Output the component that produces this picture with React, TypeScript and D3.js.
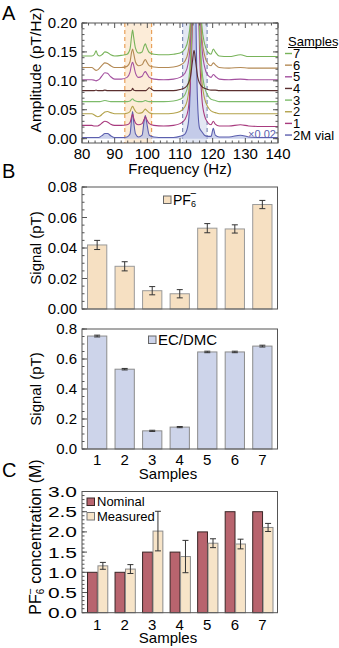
import { useEffect, useRef } from 'react';
import * as d3 from 'd3';

const W = 339;
const H = 648;
const FONT = '"Liberation Sans", Arial, sans-serif';
const FRAME = '#555';

// ---- panel A: spectra (amplitude in pT/Hz) ----
const freqs = [
  80, 83, 83.8, 84.3, 84.8, 85.5, 86.3, 87, 87.8, 88.8,
  90, 92, 93.8, 94.7, 95.2, 95.5, 95.8, 96.4, 97.3, 98.4,
  99, 99.4, 99.8, 100.6, 102, 105, 108, 110, 111.5, 112.5,
  113.2, 113.8, 114.3, 114.8, 115.4, 116, 116.7, 117.5, 118.5, 119.5,
  120.2, 120.8, 122, 125, 128.5, 131, 135, 140,
];
const sample7 = [
  0.143, 0.143, 0.146, 0.152, 0.145, 0.143, 0.146, 0.150, 0.149, 0.145,
  0.143, 0.144, 0.146, 0.155, 0.178, 0.188, 0.176, 0.156, 0.148, 0.150,
  0.160, 0.164, 0.158, 0.149, 0.146, 0.145, 0.146, 0.148, 0.155, 0.172,
  0.205, 0.30, 0.50, 0.60, 0.50, 0.30, 0.195, 0.165, 0.150, 0.146,
  0.155, 0.150, 0.143, 0.142, 0.145, 0.142, 0.142, 0.142,
];
const sample6 = [
  0.123, 0.123, 0.120, 0.118, 0.119, 0.123, 0.128, 0.131, 0.130, 0.126,
  0.123, 0.123, 0.125, 0.133, 0.150, 0.155, 0.148, 0.132, 0.126, 0.128,
  0.134, 0.137, 0.133, 0.126, 0.124, 0.123, 0.124, 0.127, 0.134, 0.150,
  0.190, 0.28, 0.45, 0.55, 0.45, 0.27, 0.175, 0.145, 0.130, 0.126,
  0.131, 0.128, 0.123, 0.122, 0.123, 0.122, 0.122, 0.122,
];
const sample5 = [
  0.102, 0.102, 0.101, 0.100, 0.101, 0.104, 0.110, 0.114, 0.113, 0.107,
  0.103, 0.103, 0.106, 0.115, 0.129, 0.132, 0.127, 0.113, 0.106, 0.108,
  0.114, 0.116, 0.113, 0.106, 0.103, 0.102, 0.103, 0.106, 0.113, 0.130,
  0.170, 0.26, 0.42, 0.50, 0.42, 0.25, 0.160, 0.125, 0.110, 0.106,
  0.111, 0.108, 0.103, 0.102, 0.103, 0.102, 0.102, 0.102,
];
const sample4 = [
  0.083, 0.083, 0.083, 0.084, 0.083, 0.083, 0.083, 0.084, 0.083, 0.083,
  0.083, 0.083, 0.083, 0.083, 0.084, 0.087, 0.084, 0.083, 0.083, 0.083,
  0.083, 0.083, 0.084, 0.088, 0.083, 0.083, 0.083, 0.085, 0.088, 0.095,
  0.107, 0.133, 0.153, 0.133, 0.107, 0.096, 0.090, 0.087, 0.085, 0.084,
  0.084, 0.084, 0.083, 0.083, 0.083, 0.083, 0.083, 0.083,
];
const sample3 = [
  0.064, 0.064, 0.064, 0.064, 0.064, 0.064, 0.065, 0.066, 0.065, 0.064,
  0.064, 0.064, 0.064, 0.065, 0.068, 0.069, 0.067, 0.065, 0.064, 0.064,
  0.065, 0.066, 0.065, 0.064, 0.064, 0.064, 0.065, 0.068, 0.076, 0.095,
  0.14, 0.25, 0.40, 0.45, 0.35, 0.20, 0.12, 0.090, 0.075, 0.068,
  0.067, 0.066, 0.064, 0.064, 0.064, 0.064, 0.064, 0.064,
];
const sample2 = [
  0.043, 0.043, 0.041, 0.039, 0.038, 0.039, 0.043, 0.046, 0.047, 0.045,
  0.043, 0.043, 0.044, 0.047, 0.054, 0.056, 0.053, 0.047, 0.044, 0.045,
  0.049, 0.051, 0.049, 0.045, 0.043, 0.043, 0.044, 0.047, 0.055, 0.075,
  0.12, 0.22, 0.38, 0.42, 0.32, 0.18, 0.10, 0.070, 0.055, 0.048,
  0.046, 0.045, 0.043, 0.043, 0.043, 0.043, 0.043, 0.043,
];
const sample1 = [
  0.023, 0.023, 0.022, 0.022, 0.022, 0.024, 0.028, 0.030, 0.029, 0.025,
  0.023, 0.023, 0.024, 0.028, 0.038, 0.042, 0.036, 0.027, 0.024, 0.026,
  0.033, 0.038, 0.033, 0.026, 0.023, 0.022, 0.023, 0.026, 0.033, 0.05,
  0.10, 0.20, 0.35, 0.40, 0.30, 0.15, 0.07, 0.040, 0.028, 0.024,
  0.030, 0.025, 0.022, 0.022, 0.024, 0.022, 0.021, 0.021,
];
// 2M vial, shown scaled by x0.02
const vial = [
  0.002, 0.002, 0.002, 0.002, 0.002, 0.003, 0.006, 0.009, 0.009, 0.005,
  0.002, 0.002, 0.003, 0.008, 0.035, 0.047, 0.030, 0.008, 0.003, 0.006,
  0.030, 0.040, 0.028, 0.006, 0.003, 0.002, 0.002, 0.004, 0.008, 0.025,
  0.10, 0.40, 0.60, 0.25, 0.06, 0.018, 0.012, 0.006, 0.004, 0.004,
  0.018, 0.006, 0.003, 0.003, 0.006, 0.003, 0.002, 0.002,
];
const traceNames = ['7', '6', '5', '4', '3', '2', '1', '2M vial'];
const traceData = [sample7, sample6, sample5, sample4, sample3, sample2, sample1, vial];
const traceColors = ['#78b35a', '#b48a55', '#a3509f', '#5b2f2f', '#7dbb6a', '#b3a24a', '#a83a7e', '#5c5fae'];
const pfWindow = [93.1, 101.3];
const ecWindow = [110.8, 118.3];
const freqTicks = [80, 90, 100, 110, 120, 130, 140];
const ampTicks = [0, 0.05, 0.1, 0.15, 0.2];

// ---- panel B: signals ----
const samples = ['1', '2', '3', '4', '5', '6', '7'];
const pfSignal = [0.042, 0.028, 0.012, 0.010, 0.053, 0.0525, 0.0685];
const pfErr = [0.003, 0.003, 0.0027, 0.0027, 0.003, 0.0027, 0.0027];
const ecSignal = [0.753, 0.532, 0.121, 0.146, 0.647, 0.647, 0.686];
const ecErr = [0.006, 0.005, 0.004, 0.004, 0.005, 0.005, 0.006];
const pfTicks = [0, 0.02, 0.04, 0.06, 0.08];
const ecTicks = [0, 0.2, 0.4, 0.6, 0.8];

// ---- panel C: concentrations ----
const nominal = [1.0, 1.0, 1.5, 1.5, 2.0, 2.5, 2.5];
const measured = [1.16, 1.08, 2.02, 1.39, 1.72, 1.70, 2.11];
const measuredErr = [0.085, 0.11, 0.49, 0.40, 0.11, 0.12, 0.10];
const concTicks = [0, 0.5, 1, 1.5, 2, 2.5, 3];

type G = d3.Selection<SVGGElement, unknown, null, undefined>;

function box(g: G, l: number, r: number, t: number, b: number) {
  g.append('rect')
    .attr('x', l).attr('y', t)
    .attr('width', r - l).attr('height', b - t)
    .attr('fill', 'none')
    .attr('stroke', FRAME)
    .attr('stroke-width', 1);
}

// ticks point inward (Mathematica frame style); stretch widens labels horizontally
function leftTicks(g: G, y: d3.ScaleLinear<number, number>, x0: number, major: number[], minorStep: number, fmt: (v: number) => string, size = 15, x1?: number, stretch = 1) {
  const [lo, hi] = y.domain();
  const minor = d3.range(Math.ceil(lo / minorStep) * minorStep, hi + 1e-9, minorStep);
  minor.forEach(v => {
    g.append('line').attr('x1', x0).attr('x2', x0 + 2.5).attr('y1', y(v)).attr('y2', y(v)).attr('stroke', FRAME);
    if (x1 !== undefined) g.append('line').attr('x1', x1).attr('x2', x1 - 2.5).attr('y1', y(v)).attr('y2', y(v)).attr('stroke', FRAME);
  });
  major.forEach(v => {
    g.append('line').attr('x1', x0).attr('x2', x0 + 5).attr('y1', y(v)).attr('y2', y(v)).attr('stroke', FRAME);
    if (x1 !== undefined) g.append('line').attr('x1', x1).attr('x2', x1 - 5).attr('y1', y(v)).attr('y2', y(v)).attr('stroke', FRAME);
    g.append('text')
      .attr('transform', `translate(${x0 - 5},${y(v) + size * 0.36}) scale(${stretch},1)`)
      .attr('text-anchor', 'end')
      .attr('font-size', size)
      .text(fmt(v));
  });
}

function yTitle(g: G, x: number, y: number, text: string, size = 15) {
  g.append('text')
    .attr('transform', `translate(${x},${y}) rotate(-90)`)
    .attr('text-anchor', 'middle')
    .attr('font-size', size)
    .text(text);
}

function errorBars(g: G, xs: number[], vals: number[], errs: number[], y: d3.ScaleLinear<number, number>) {
  xs.forEach((x, i) => {
    const yt = y(vals[i] + errs[i]);
    const yb = y(vals[i] - errs[i]);
    g.append('line').attr('x1', x).attr('x2', x).attr('y1', yt).attr('y2', yb).attr('stroke', '#333');
    g.append('line').attr('x1', x - 3).attr('x2', x + 3).attr('y1', yt).attr('y2', yt).attr('stroke', '#333');
    g.append('line').attr('x1', x - 3).attr('x2', x + 3).attr('y1', yb).attr('y2', yb).attr('stroke', '#333');
  });
}

export default function App() {
  const ref = useRef<SVGSVGElement>(null);

  useEffect(() => {
    document.body.style.margin = '0';
    const svg = d3.select(ref.current);
    svg.selectAll('*').remove();
    const root = svg.append('g').attr('font-family', FONT) as unknown as G;

    // panel letters
    [['A', 20], ['B', 178], ['C', 477]].forEach(([t, y]) => {
      root.append('text').attr('x', 2).attr('y', y as number).attr('font-size', 20).text(t as string);
    });

    // ================= Panel A =================
    const ax = d3.scaleLinear().domain([80, 140]).range([82, 278]);
    const ay = d3.scaleLinear().domain([-0.0075, 0.2]).range([143, 23]);
    const gA = root.append('g') as G;

    gA.append('clipPath').attr('id', 'clipA')
      .append('rect').attr('x', 82).attr('y', 23).attr('width', 196).attr('height', 120);

    gA.append('rect')
      .attr('x', ax(pfWindow[0])).attr('y', 23)
      .attr('width', ax(pfWindow[1]) - ax(pfWindow[0])).attr('height', 120)
      .attr('fill', '#fcecd8');
    gA.append('rect')
      .attr('x', ax(ecWindow[0])).attr('y', 23)
      .attr('width', ax(ecWindow[1]) - ax(ecWindow[0])).attr('height', 120)
      .attr('fill', '#e4e8f4');
    pfWindow.forEach(f => {
      gA.append('line').attr('x1', ax(f)).attr('x2', ax(f)).attr('y1', 23).attr('y2', 143)
        .attr('stroke', '#e9a15a').attr('stroke-width', 1.2).attr('stroke-dasharray', '4,3');
    });
    ecWindow.forEach(f => {
      gA.append('line').attr('x1', ax(f)).attr('x2', ax(f)).attr('y1', 23).attr('y2', 143)
        .attr('stroke', '#7f8db5').attr('stroke-width', 1.2).attr('stroke-dasharray', '4,3');
    });

    const line = d3.line<number>()
      .x((_, i) => ax(freqs[i]))
      .y(d => ay(d))
      .curve(d3.curveMonotoneX);
    const area = d3.area<number>()
      .x((_, i) => ax(freqs[i]))
      .y0(ay(0))
      .y1(d => ay(d))
      .curve(d3.curveMonotoneX);

    const plot = gA.append('g').attr('clip-path', 'url(#clipA)');
    plot.append('path').datum(vial).attr('d', area).attr('fill', '#b9c1e6').attr('fill-opacity', 0.75);
    for (let i = traceData.length - 1; i >= 0; i--) {
      plot.append('path')
        .datum(traceData[i])
        .attr('d', line)
        .attr('fill', 'none')
        .attr('stroke', traceColors[i])
        .attr('stroke-width', 1.1);
    }

    gA.append('text')
      .attr('x', 262).attr('y', 138)
      .attr('text-anchor', 'middle')
      .attr('font-size', 11)
      .attr('fill', '#5c5fae')
      .text('×0.02');

    box(gA, 82, 278, 23, 143);
    leftTicks(gA, ay, 82, ampTicks, 0.01, d3.format('.2f'), 15, 278);
    d3.range(80, 140.01, 2).forEach(f => {
      const major = f % 10 === 0;
      const len = major ? 5 : 2.5;
      gA.append('line').attr('x1', ax(f)).attr('x2', ax(f)).attr('y1', 143).attr('y2', 143 - len).attr('stroke', FRAME);
      gA.append('line').attr('x1', ax(f)).attr('x2', ax(f)).attr('y1', 23).attr('y2', 23 + len).attr('stroke', FRAME);
    });
    freqTicks.forEach(f => {
      gA.append('text').attr('x', ax(f)).attr('y', 158.5).attr('text-anchor', 'middle').attr('font-size', 15).text(f);
    });
    gA.append('text').attr('x', 180).attr('y', 174).attr('text-anchor', 'middle').attr('font-size', 15).text('Frequency (Hz)');
    yTitle(gA, 41, 70, 'Amplitude (pT/Hz)', 15.5);

    // legend
    gA.append('text').attr('x', 288).attr('y', 45.5).attr('font-size', 13).text('Samples');
    gA.append('line').attr('x1', 288).attr('x2', 337).attr('y1', 47.5).attr('y2', 47.5).attr('stroke', '#000');
    traceNames.forEach((name, i) => {
      const y = 53.5 + i * 11.65;
      gA.append('line').attr('x1', 285).attr('x2', 292).attr('y1', y).attr('y2', y)
        .attr('stroke', traceColors[i]).attr('stroke-width', 1.4);
      gA.append('text').attr('x', 293).attr('y', y + 4.6).attr('font-size', 13).text(name);
    });

    // ================= Panel B =================
    const bx = d3.scaleBand().domain(samples).range([82, 277.5]).paddingInner(0.3).paddingOuter(0.2);
    const centers = samples.map(s => (bx(s) as number) + bx.bandwidth() / 2);

    // top: PF6-
    const yPF = d3.scaleLinear().domain([0, 0.08]).range([309, 187]);
    const gB1 = root.append('g') as G;
    gB1.selectAll('rect.bar').data(pfSignal).join('rect')
      .attr('class', 'bar')
      .attr('x', (_, i) => bx(samples[i]) as number)
      .attr('y', d => yPF(d))
      .attr('width', bx.bandwidth())
      .attr('height', d => yPF(0) - yPF(d))
      .attr('fill', '#f6e0c2')
      .attr('stroke', '#9a9a9a');
    errorBars(gB1, centers, pfSignal, pfErr, yPF);
    box(gB1, 82, 277.5, 187, 309);
    leftTicks(gB1, yPF, 82, pfTicks, 0.005, d3.format('.2f'));
    yTitle(gB1, 41, 248, 'Signal (pT)');
    gB1.append('rect').attr('x', 163.5).attr('y', 196).attr('width', 7.5).attr('height', 7.5)
      .attr('fill', '#f6e0c2').attr('stroke', '#666');
    const pfText = gB1.append('text').attr('x', 173).attr('y', 204.5).attr('font-size', 14);
    pfText.append('tspan').text('PF');
    pfText.append('tspan').attr('font-size', 9).attr('dy', 2.5).text('6');
    pfText.append('tspan').attr('font-size', 11).attr('dx', -6).attr('dy', -10).text('−');

    // bottom: EC/DMC
    const yEC = d3.scaleLinear().domain([0, 0.8]).range([449, 329]);
    const gB2 = root.append('g') as G;
    gB2.selectAll('rect.bar').data(ecSignal).join('rect')
      .attr('class', 'bar')
      .attr('x', (_, i) => bx(samples[i]) as number)
      .attr('y', d => yEC(d))
      .attr('width', bx.bandwidth())
      .attr('height', d => yEC(0) - yEC(d))
      .attr('fill', '#cdd4ea')
      .attr('stroke', '#8c8c8c');
    errorBars(gB2, centers, ecSignal, ecErr, yEC);
    box(gB2, 82, 277.5, 329, 449);
    leftTicks(gB2, yEC, 82, ecTicks, 0.05, d3.format('.1f'));
    yTitle(gB2, 41, 389, 'Signal (pT)');
    gB2.append('rect').attr('x', 148.5).attr('y', 336).attr('width', 7.5).attr('height', 7.5)
      .attr('fill', '#cdd4ea').attr('stroke', '#666');
    gB2.append('text').attr('x', 158).attr('y', 344.5).attr('font-size', 15).text('EC/DMC');
    samples.forEach((s, i) => {
      gB2.append('text').attr('x', centers[i]).attr('y', 465).attr('text-anchor', 'middle').attr('font-size', 15).text(s);
    });
    gB2.append('text').attr('x', 168).attr('y', 478.5).attr('text-anchor', 'middle').attr('font-size', 15).text('Samples');

    // ================= Panel C =================
    const yC = d3.scaleLinear().domain([0, 3]).range([612.7, 491.5]);
    const inner = d3.scaleBand().domain(['nominal', 'measured']).range([0, bx.bandwidth() + 1]).paddingInner(0.06);
    const gC = root.append('g') as G;
    gC.selectAll('rect.nom').data(nominal).join('rect')
      .attr('class', 'nom')
      .attr('x', (_, i) => (bx(samples[i]) as number) + (inner('nominal') as number))
      .attr('y', d => yC(d))
      .attr('width', inner.bandwidth())
      .attr('height', d => yC(0) - yC(d))
      .attr('fill', '#b8646e')
      .attr('stroke', '#3a2626');
    gC.selectAll('rect.meas').data(measured).join('rect')
      .attr('class', 'meas')
      .attr('x', (_, i) => (bx(samples[i]) as number) + (inner('measured') as number))
      .attr('y', d => yC(d))
      .attr('width', inner.bandwidth())
      .attr('height', d => yC(0) - yC(d))
      .attr('fill', '#f7e4c8')
      .attr('stroke', '#8c8c8c');
    errorBars(
      gC,
      samples.map(s => (bx(s) as number) + (inner('measured') as number) + inner.bandwidth() / 2),
      measured, measuredErr, yC,
    );
    box(gC, 82, 277.5, 491.5, 612.7);
    leftTicks(gC, yC, 82, concTicks, 0.1, d3.format('.1f'), 15.5, undefined, 1.35);
    samples.forEach((s, i) => {
      gC.append('text').attr('x', centers[i]).attr('y', 630).attr('text-anchor', 'middle').attr('font-size', 15).text(s);
    });
    gC.append('text').attr('x', 168).attr('y', 643).attr('text-anchor', 'middle').attr('font-size', 15).text('Samples');

    const cTitle = gC.append('text')
      .attr('transform', 'translate(41,537) rotate(-90)')
      .attr('text-anchor', 'middle')
      .attr('font-size', 16);
    cTitle.append('tspan').text('PF');
    cTitle.append('tspan').attr('font-size', 10).attr('dy', 3).text('6');
    cTitle.append('tspan').attr('font-size', 11).attr('dx', -6).attr('dy', -10).text('−');
    cTitle.append('tspan').attr('dy', 7).text(' concentration (M)');

    // legend
    gC.append('rect').attr('x', 87).attr('y', 498).attr('width', 7.5).attr('height', 7.5)
      .attr('fill', '#b8646e').attr('stroke', '#3a2626');
    gC.append('text').attr('x', 97).attr('y', 506).attr('font-size', 13).text('Nominal');
    gC.append('rect').attr('x', 87).attr('y', 512.5).attr('width', 7.5).attr('height', 7.5)
      .attr('fill', '#f7e4c8').attr('stroke', '#777');
    gC.append('text').attr('x', 97).attr('y', 520.5).attr('font-size', 13).text('Measured');
  }, []);

  return (
    <svg
      ref={ref}
      width={W}
      height={H}
      viewBox={`0 0 ${W} ${H}`}
      style={{ display: 'block', background: '#fff' }}
    />
  );
}
